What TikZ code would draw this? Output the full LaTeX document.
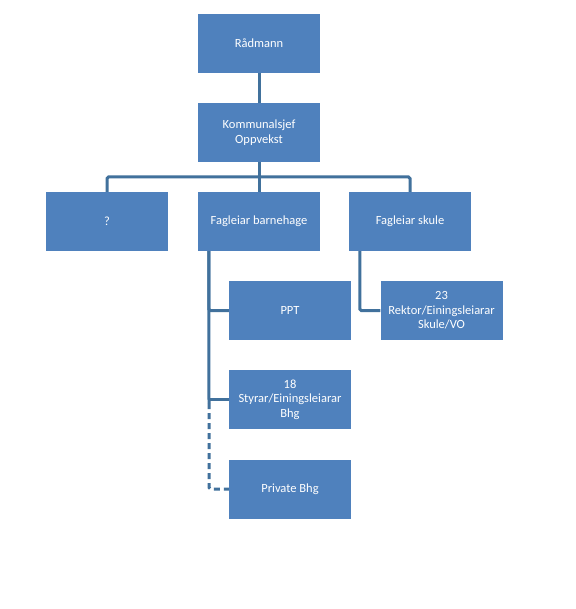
\documentclass[tikz,border=0pt]{standalone}
\usepackage{fontspec}
\setmainfont{Carlito}
\definecolor{boxfill}{HTML}{4F81BD}
\definecolor{linecol}{HTML}{41719C}
\begin{document}
\begin{tikzpicture}[x=1pt,y=-1pt,
  box/.style={fill=boxfill,draw=none,minimum width=122pt,minimum height=59pt,inner sep=0pt,
    text=white,align=center,font=\fontsize{12.5}{14.5}\selectfont},
  conn/.style={draw=linecol,line width=3pt,rounded corners=1.5pt},
  dconn/.style={conn,dash pattern=on 6pt off 4pt}]
\useasboundingbox (0,0) rectangle (575,609);
\fill[white] (0,0) rectangle (575,609);
\node[box] (rad) at (259,43.5) {Rådmann};
\node[box] (kom) at (259,132.5) {Kommunalsjef\\Oppvekst};
\node[box] (q) at (107,221.5) {?};
\node[box] (fb) at (259,221.5) {Fagleiar barnehage};
\node[box] (fs) at (410,221.5) {Fagleiar skule};
\node[box] (ppt) at (290,310.5) {PPT};
\node[box] (rek) at (441.5,310.5) {23\\Rektor/Einingsleiarar\\Skule/VO};
\node[box] (sty) at (290,399.5) {18\\Styrar/Einingsleiarar\\Bhg};
\node[box] (priv) at (290,489) {Private Bhg};
\coordinate (bus) at (259,177);
\coordinate (fbl) at ([xshift=11pt]fb.south west);
\coordinate (fsl) at ([xshift=11pt]fs.south west);
\coordinate (dashstart) at (209,403);
\draw[conn] (rad) -- (kom);
\draw[conn] (kom.south) -- (fb.north);
\draw[conn] (q.north) |- (bus) -| (fs.north);
\draw[conn] (fbl) |- (ppt.west);
\draw[conn] (fbl) -- (dashstart);
\draw[conn] (dashstart |- sty.west) -- (sty.west);
\draw[dconn] (dashstart) |- (priv.west);
\draw[conn] (fsl) |- (rek.west);
\end{tikzpicture}
\end{document}
